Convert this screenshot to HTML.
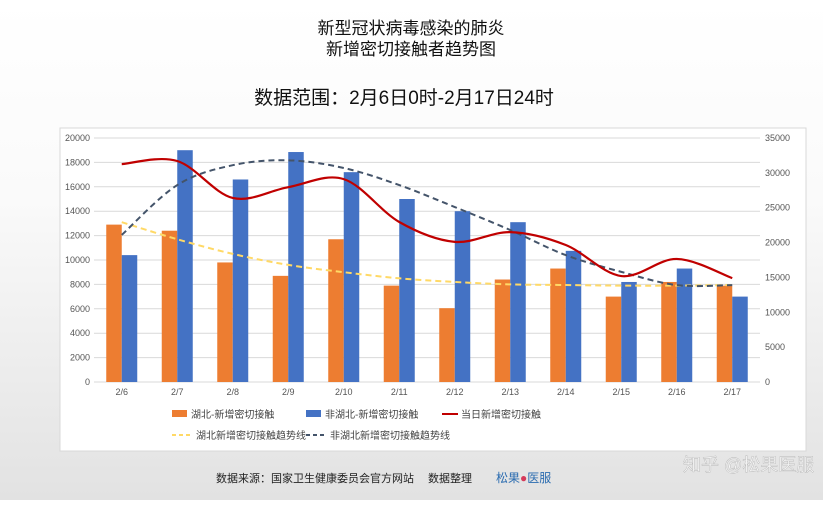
<!DOCTYPE html>
<html><head><meta charset="utf-8"><style>
body{margin:0;width:823px;height:500px;overflow:hidden;background:linear-gradient(#ffffff 0%,#fafafa 40%,#e2e2e2 100%);font-family:"Liberation Sans","Noto Sans CJK SC",sans-serif;}
svg text{font-family:"Liberation Sans","Noto Sans CJK SC",sans-serif;}
</style></head><body>
<svg width="823" height="500">
<text x="411" y="34" text-anchor="middle" font-size="17" fill="#111">新型冠状病毒感染的肺炎</text>
<text x="411" y="55" text-anchor="middle" font-size="17" fill="#111">新增密切接触者趋势图</text>
<text x="404" y="104" text-anchor="middle" font-size="19" fill="#111">数据范围：2月6日0时-2月17日24时</text>
<rect x="60" y="128" width="746" height="323" fill="#fff" stroke="#d8d8d8"/>
<g id="grid"></g><g id="bars"></g><g id="lines"></g><g id="axes"></g>
<g font-size="10" fill="#444">
<rect x="172" y="410" width="15" height="7" fill="#ed7d31"/>
<text x="191" y="418">湖北-新增密切接触</text>
<rect x="306" y="410" width="15" height="7" fill="#4472c4"/>
<text x="325" y="418">非湖北-新增密切接触</text>
<line x1="442" y1="414" x2="458" y2="414" stroke="#c00000" stroke-width="2"/>
<text x="461" y="418">当日新增密切接触</text>
<line x1="172" y1="435" x2="192" y2="435" stroke="#ffd966" stroke-width="2" stroke-dasharray="4,3"/>
<text x="196" y="439">湖北新增密切接触趋势线</text>
<line x1="306" y1="435" x2="326" y2="435" stroke="#44546a" stroke-width="2" stroke-dasharray="4,3"/>
<text x="330" y="439">非湖北新增密切接触趋势线</text>
</g>
<text x="216" y="482" font-size="11" fill="#222">数据来源：国家卫生健康委员会官方网站　 数据整理</text>
<text x="496" y="482" font-size="12" fill="#2b6cb0">松果<tspan fill="#d63a5a">●</tspan>医服</text>
<text x="683" y="471" font-size="18" fill="#f6f6f6" stroke="#b5b5b5" stroke-width="0.4">知乎 @松果医服</text>
</svg>
<script>
const categories=["2/6","2/7","2/8","2/9","2/10","2/11","2/12","2/13","2/14","2/15","2/16","2/17"];
const hubei=[12900,12400,9800,8700,11700,7900,6050,8400,9300,7000,8200,7900];
const nonHubei=[10400,19000,16600,18850,17200,15000,14000,13100,10750,8200,9300,7000];
const daily=[31250,31700,26400,27950,29100,22950,20100,21500,19650,15200,17650,14900];
const hubeiTrend=[13100,11700,10500,9600,9000,8500,8200,8000,7950,7900,7900,7950];
const nonHubeiTrend=[21100,28250,31100,31800,30700,28250,25100,21800,18200,15800,13900,13900];
const leftTicks=[0,2000,4000,6000,8000,10000,12000,14000,16000,18000,20000];
const rightTicks=[0,5000,10000,15000,20000,25000,30000,35000];
const NS="http://www.w3.org/2000/svg";
const y0=382,yTop=138,pl=94,pr=760;
const yL=v=>y0-v/20000*(y0-yTop);
const yR=v=>y0-v/35000*(y0-yTop);
const step=(pr-pl)/categories.length;
const xC=i=>pl+step*(i+0.5);
function mk(tag,attrs,parent){const e=document.createElementNS(NS,tag);for(const k in attrs)e.setAttribute(k,attrs[k]);document.getElementById(parent).appendChild(e);return e;}
leftTicks.forEach(v=>{
 const l=mk('line',{x1:pl,x2:pr,y1:yL(v),y2:yL(v),stroke:'#d9d9d9'},'grid');
 
 
 const t=mk('text',{x:90,y:yL(v)+3,'text-anchor':'end','font-size':9,fill:'#555'},'axes');t.textContent=v;
 
 
});
rightTicks.forEach(v=>{
 const t=mk('text',{x:765,y:yR(v)+3,'font-size':9,fill:'#555'},'axes');t.textContent=v;
 
 
});
categories.forEach((c,i)=>{
 const t=mk('text',{x:xC(i),y:395,'text-anchor':'middle','font-size':9,fill:'#555'},'axes');t.textContent=c;
 
 
 const b1=mk('rect',{x:xC(i)-15.5,y:yL(hubei[i]),width:15.5,height:y0-yL(hubei[i]),fill:'#ed7d31'},'bars');
 
 
 const b2=mk('rect',{x:xC(i),y:yL(nonHubei[i]),width:15.5,height:y0-yL(nonHubei[i]),fill:'#4472c4'},'bars');
 
 
});
function smooth(pts){let d=`M${pts[0][0]},${pts[0][1]}`;for(let i=0;i<pts.length-1;i++){const p0=pts[i-1]||pts[i],p1=pts[i],p2=pts[i+1],p3=pts[i+2]||p2;const c1=[p1[0]+(p2[0]-p0[0])/6,p1[1]+(p2[1]-p0[1])/6],c2=[p2[0]-(p3[0]-p1[0])/6,p2[1]-(p3[1]-p1[1])/6];d+=`C${c1},${c2},${p2}`;}return d;}
const l1=mk('path',{d:smooth(hubeiTrend.map((v,i)=>[xC(i),yL(v)])),fill:'none',stroke:'#ffd966','stroke-width':2,'stroke-dasharray':'6,4'},'lines');


const l2=mk('path',{d:smooth(nonHubeiTrend.map((v,i)=>[xC(i),yR(v)])),fill:'none',stroke:'#44546a','stroke-width':2,'stroke-dasharray':'6,4'},'lines');


const l3=mk('path',{d:smooth(daily.map((v,i)=>[xC(i),yR(v)])),fill:'none',stroke:'#c00000','stroke-width':2.2},'lines');


</script>
</body></html>
